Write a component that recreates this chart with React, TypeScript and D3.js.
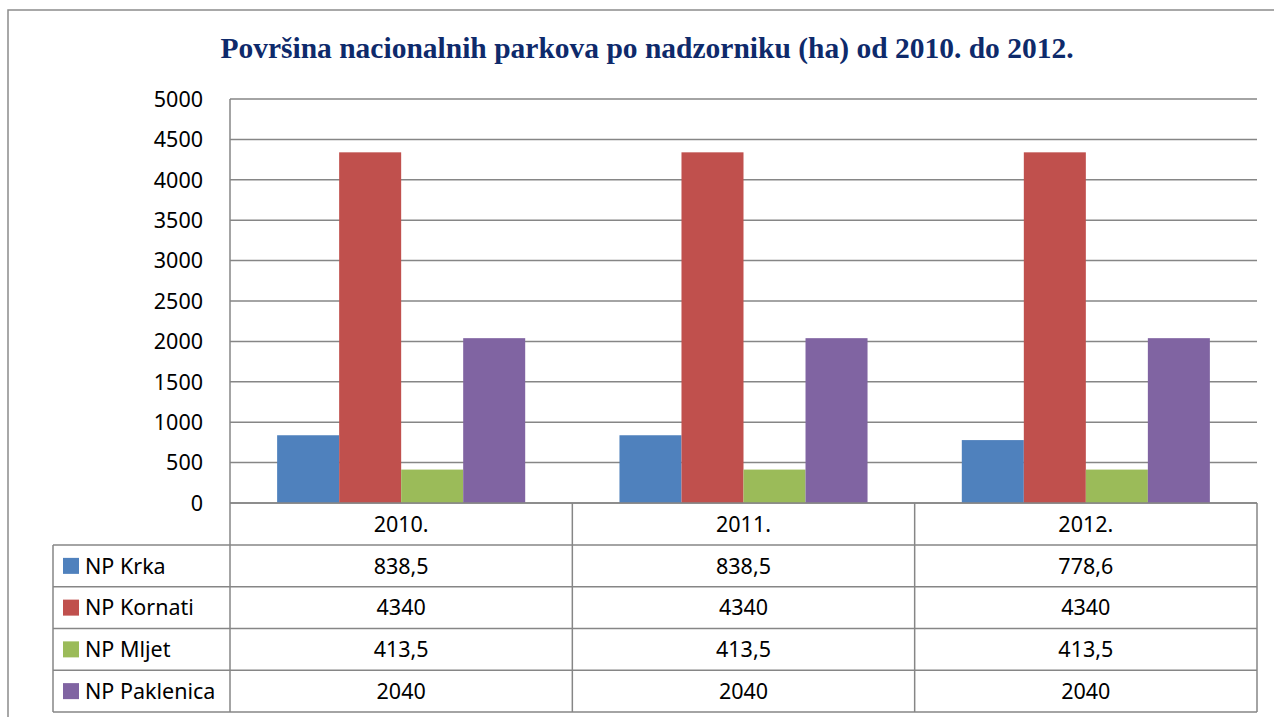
import React from "react";
import * as d3 from "d3";

const title = "Površina nacionalnih parkova po nadzorniku (ha) od 2010. do 2012.";
const years = ["2010.", "2011.", "2012."];
const seriesNames = ["NP Krka", "NP Kornati", "NP Mljet", "NP Paklenica"];
const krka = [838.5, 838.5, 778.6];
const kornati = [4340, 4340, 4340];
const mljet = [413.5, 413.5, 413.5];
const paklenica = [2040, 2040, 2040];
const yTicks = [0, 500, 1000, 1500, 2000, 2500, 3000, 3500, 4000, 4500, 5000];
const colors = ["#4F81BD", "#C0504D", "#9BBB59", "#8064A2"];

const seriesValues = [krka, kornati, mljet, paklenica];

const fmt = (v: number) => String(v).replace(".", ",");

export default function App() {
  const W = 1274, H = 717;
  const plotLeft = 230, plotRight = 1257, plotTop = 99, plotBottom = 503;
  const legendLeft = 53;
  const rowH = 41.75;
  const tableTop = plotBottom;
  const firstRow = 545;

  const x = d3.scaleBand<string>().domain(years).range([plotLeft, plotRight]).paddingInner(0).paddingOuter(0);
  const inner = d3.scaleBand<string>().domain(seriesNames).range([0, x.bandwidth()]).paddingOuter(0.76).paddingInner(0);
  const y = d3.scaleLinear().domain([0, 5000]).range([plotBottom, plotTop]);

  const gridColor = "#868686";
  const font = "'Noto Sans', 'Open Sans', sans-serif";
  const fs = 21.5;
  const off = 7.8;
  const rowYs = seriesNames.map((_, i) => firstRow + i * rowH);
  const tableBottom = firstRow + seriesNames.length * rowH;

  return (
    <svg width={W} height={H} style={{ position: "absolute", left: 0, top: 0, background: "#fff" }}>
      {/* outer frame */}
      <rect x={8} y={10} width={W + 10} height={H + 10} fill="#fff" stroke="#8c8c8c" strokeWidth={1.5} />
      <text x={647} y={58} textAnchor="middle" fontFamily="'Liberation Serif', 'Times New Roman', serif" fontWeight="bold" fontSize={29.5} fill="#0E2A6B">
        {title}
      </text>
      {/* gridlines */}
      {yTicks.map((t) => (
        <line key={t} x1={plotLeft} x2={plotRight} y1={y(t)} y2={y(t)} stroke={gridColor} strokeWidth={1.5} />
      ))}
      {yTicks.map((t) => (
        <text key={"l" + t} x={203} y={y(t) + off} textAnchor="end" fontFamily={font} fontSize={fs} fill="#000">
          {t}
        </text>
      ))}
      {/* bars */}
      {years.map((yr, yi) => (
        <g key={yr}>
          {seriesNames.map((s, si) => {
            const v = seriesValues[si][yi];
            const bx = (x(yr) as number) + (inner(s) as number);
            return <rect key={s} x={bx} y={y(v)} width={inner.bandwidth()} height={y(0) - y(v)} fill={colors[si]} />;
          })}
        </g>
      ))}
      {/* table lines */}
      <line x1={plotLeft} x2={plotRight} y1={tableTop} y2={tableTop} stroke={gridColor} strokeWidth={1.5} />
      {rowYs.concat([tableBottom]).map((ry, i) => (
        <line key={"h" + i} x1={legendLeft} x2={plotRight} y1={ry} y2={ry} stroke={gridColor} strokeWidth={1.5} />
      ))}
      <line x1={legendLeft} x2={legendLeft} y1={firstRow} y2={tableBottom} stroke={gridColor} strokeWidth={1.5} />
      <line x1={plotLeft} x2={plotLeft} y1={plotTop} y2={tableBottom} stroke={gridColor} strokeWidth={1.5} />
      {years.map((yr) => (
        <line key={"v" + yr} x1={(x(yr) as number) + x.bandwidth()} x2={(x(yr) as number) + x.bandwidth()} y1={tableTop} y2={tableBottom} stroke={gridColor} strokeWidth={1.5} />
      ))}
      {/* year headers */}
      {years.map((yr) => (
        <text key={"y" + yr} x={(x(yr) as number) + x.bandwidth() / 2} y={(tableTop + firstRow) / 2 + off} textAnchor="middle" fontFamily={font} fontSize={fs} fill="#000">
          {yr}
        </text>
      ))}
      {/* legend rows + values */}
      {seriesNames.map((s, si) => {
        const cy = rowYs[si] + rowH / 2;
        return (
          <g key={"r" + s}>
            <rect x={63} y={cy - 8} width={16} height={16} fill={colors[si]} />
            <text x={85} y={cy + off} fontFamily={font} fontSize={fs} fill="#000">{s}</text>
            {years.map((yr, yi) => (
              <text key={yr} x={(x(yr) as number) + x.bandwidth() / 2} y={cy + off} textAnchor="middle" fontFamily={font} fontSize={fs} fill="#000">
                {fmt(seriesValues[si][yi])}
              </text>
            ))}
          </g>
        );
      })}
    </svg>
  );
}
